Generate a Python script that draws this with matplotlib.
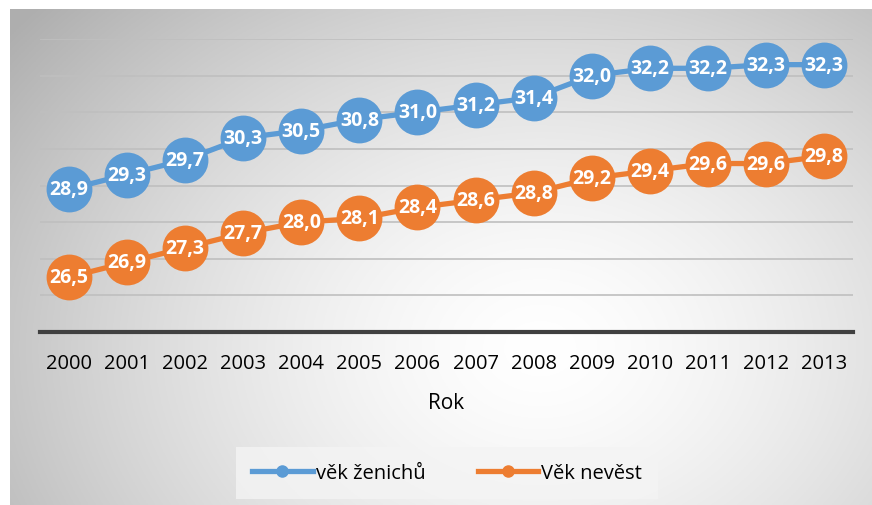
import numpy as np
import matplotlib
matplotlib.use("Agg")
import matplotlib.pyplot as plt
from matplotlib.lines import Line2D

years = ["2000", "2001", "2002", "2003", "2004", "2005", "2006",
         "2007", "2008", "2009", "2010", "2011", "2012", "2013"]
zenichu = [28.9, 29.3, 29.7, 30.3, 30.5, 30.8, 31.0, 31.2, 31.4, 32.0, 32.2, 32.2, 32.3, 32.3]
nevest = [26.5, 26.9, 27.3, 27.7, 28.0, 28.1, 28.4, 28.6, 28.8, 29.2, 29.4, 29.6, 29.6, 29.8]
series_names = ["věk ženichů", "Věk nevěst"]
colors = ["#5b9bd5", "#ed7d31"]

W, H = 872, 506
fig = plt.figure(figsize=(W / 100, H / 100), dpi=100)
fig.patch.set_facecolor("white")

# background radial gradient
bx0, by0 = 10, 10
bg = fig.add_axes([bx0 / W, 0, (W - bx0) / W, (H - by0) / H])
bg.set_axis_off()
gx = np.linspace(bx0, W, 400)
gy = np.linspace(by0, H, 300)
X, Y = np.meshgrid(gx, gy)
cx, cy = 540, 350
R = np.sqrt(((X - cx) / 560) ** 2 + ((Y - cy) / 430) ** 2)
R = np.clip(R, 0, 1.2)
lv = 1.0 - 0.24 * R ** 1.5
img = np.dstack([lv, lv, lv])
bg.imshow(img, aspect="auto", extent=[0, 1, 0, 1], origin="upper")
bg.set_xlim(0, 1)
bg.set_ylim(0, 1)

font = "Open Sans"
ax = fig.add_axes([40 / W, (H - 333) / H, (853 - 40) / W, (333 - 40) / H])
ax.patch.set_alpha(0)
x = np.arange(len(years))
ax.set_xlim(-0.5, len(years) - 0.5)
ax.set_ylim(25, 33)
for v in range(26, 34):
    ax.axhline(v, color="#bfbfbf", lw=1.2, zorder=1)
for sp in ["top", "left", "right"]:
    ax.spines[sp].set_visible(False)
ax.spines["bottom"].set_color("#404040")
ax.spines["bottom"].set_linewidth(3)
ax.set_yticks([])
ax.set_xticks(x)
ax.set_xticklabels(years, fontsize=14.5, family=font, color="#000000")
ax.tick_params(axis="x", length=0, pad=15)
ax.set_xlabel("Rok", fontsize=15, family=font, labelpad=14)

for vals, c in zip([zenichu, nevest], colors):
    ax.plot(x, vals, color=c, lw=3.8, marker="o", markersize=33,
            markeredgewidth=0, zorder=3, clip_on=False)
    for xi, v in zip(x, vals):
        ax.text(xi, v, f"{v:.1f}".replace(".", ","), ha="center", va="center",
                color="white", fontsize=14, fontweight="bold", family=font,
                zorder=4)

handles = [Line2D([0], [0], color=c, lw=3.8, marker="o", markersize=8)
           for c in colors]
leg = fig.legend(handles, series_names, loc="center",
                 bbox_to_anchor=(447 / W, (H - 474) / H), ncol=2,
                 frameon=True, prop={"family": font, "size": 14.5},
                 handlelength=3.0, columnspacing=2.6, handletextpad=0.15,
                 borderpad=0.8)
leg.get_frame().set_facecolor("#f4f4f4")
leg.get_frame().set_edgecolor("none")
leg.get_frame().set_boxstyle("square", pad=0)

fig.savefig("out.png", dpi=100)
